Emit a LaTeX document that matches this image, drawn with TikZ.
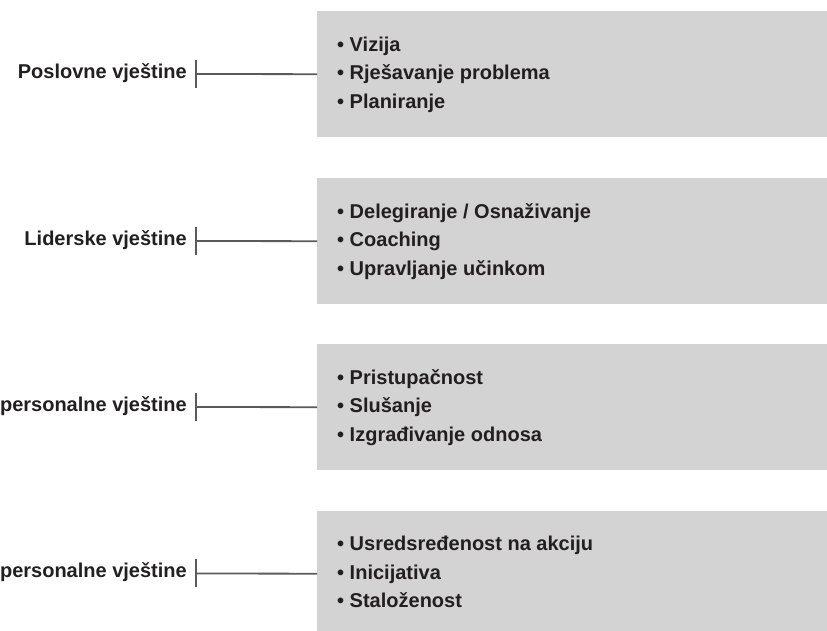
\documentclass[tikz,border=0pt]{standalone}
\usepackage{fontspec}
\setmainfont{Liberation Sans}
\definecolor{boxgray}{HTML}{D3D3D3}
\definecolor{linegray}{HTML}{5A5A5A}
\definecolor{txt}{HTML}{231F20}
\begin{document}
\begin{tikzpicture}[x=1pt,y=1pt,
  box/.style={fill=boxgray, draw=none, inner sep=0pt, minimum width=510pt, minimum height=126pt, anchor=north west},
  lbl/.style={anchor=base east, inner sep=0pt, font=\fontsize{20}{24}\selectfont\bfseries, text=txt},
  items/.style={anchor=base west, inner sep=0pt, font=\fontsize{20}{28.5}\selectfont\bfseries, text=txt},
  conn/.style={draw=linegray, line width=1.8pt},
]
\useasboundingbox (0,0) rectangle (827,631);
\clip (0,0) rectangle (827,631);

% boxes (image tops 11, 178, 344, 510.5)
\node[box] (b1) at (317,620) {};
\node[box] (b2) at (317,453) {};
\node[box] (b3) at (317,287) {};
\node[box] (b4) at (317,120.5) {};

% item lists
\node[items] (i1) at (337,579.5) {\begin{tabular}[t]{@{}l@{}}• Vizija\\• Rješavanje problema\\• Planiranje\end{tabular}};
\node[items] (i2) at (337,412.5) {\begin{tabular}[t]{@{}l@{}}• Delegiranje / Osnaživanje\\• Coaching\\• Upravljanje učinkom\end{tabular}};
\node[items] (i3) at (337,246.5) {\begin{tabular}[t]{@{}l@{}}• Pristupačnost\\• Slušanje\\• Izgrađivanje odnosa\end{tabular}};
\node[items] (i4) at (337,80) {\begin{tabular}[t]{@{}l@{}}• Usredsređenost na akciju\\• Inicijativa\\• Staloženost\end{tabular}};

% labels
\node[lbl] (l1) at (187,552.7) {Poslovne vještine};
\node[lbl] (l2) at (187,385.7) {Liderske vještine};
\node[lbl] (l3) at (187,219.7) {Interpersonalne vještine};
\node[lbl] (l4) at (187,53.2) {Intrapersonalne vještine};

% tick coordinates
\coordinate (t1) at (196,557);
\coordinate (t2) at (196,390);
\coordinate (t3) at (196,224);
\coordinate (t4) at (196,57.5);

\foreach \k in {1,2,3,4}{
  \draw[conn] ([yshift=-14pt]t\k) -- ([yshift=14pt]t\k);
  \draw[conn] (t\k) -- (b\k.west);
}
\end{tikzpicture}
\end{document}
